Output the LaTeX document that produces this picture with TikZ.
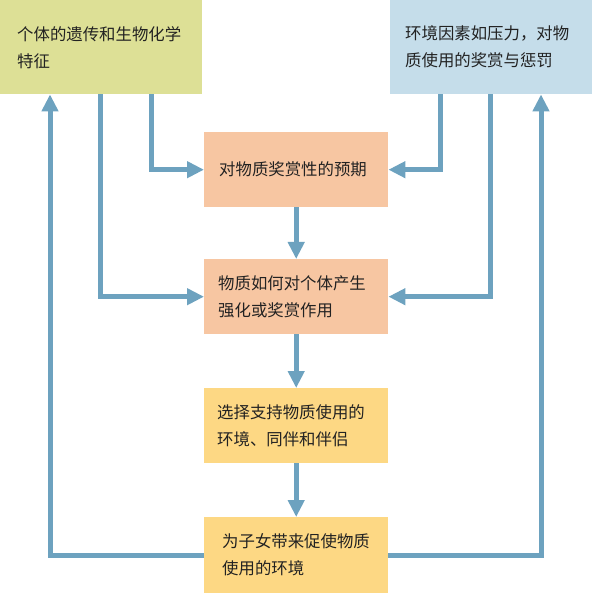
\documentclass[tikz,border=0pt]{standalone}
\usepackage{fontspec}
\setmainfont{Noto Sans CJK SC}
\usetikzlibrary{arrows.meta}
\definecolor{olivebox}{HTML}{DDE096}
\definecolor{bluebox}{HTML}{C5DDEA}
\definecolor{salmonbox}{HTML}{F7C6A2}
\definecolor{yellowbox}{HTML}{FDD884}
\definecolor{linkcol}{HTML}{6DA2BF}
\definecolor{txtcol}{HTML}{222222}
\tikzset{
  boxbase/.style={anchor=north west, inner ysep=0pt, align=left, text=txtcol,
    font=\fontsize{16.4}{27}\selectfont},
  mybox/.style n args={4}{boxbase, fill=#1, minimum width=#2, minimum height=#3,
    inner xsep=#4, text width=#2-2*#4},
  link/.style={draw=linkcol, line width=5pt},
  arr/.style={link, -{Triangle[length=17pt,width=16pt]}}
}
\begin{document}
\begin{tikzpicture}[x=1pt,y=-1pt]
\useasboundingbox (0,0) rectangle (592,593);
\fill[white] (0,0) rectangle (592,593);
\node[mybox={olivebox}{202pt}{94pt}{17pt}] (tl) at (0,0) {个体的遗传和生物化学\\特征};
\node[mybox={bluebox}{202pt}{94pt}{15pt}] (tr) at (390,0) {环境因素如压力，对物\\质使用的奖赏与惩罚};
\node[mybox={salmonbox}{184pt}{75pt}{15pt}] (b1) at (204,132) {对物质奖赏性的预期};
\node[mybox={salmonbox}{184pt}{75pt}{14pt}] (b2) at (204,259) {物质如何对个体产生\\强化或奖赏作用};
\node[mybox={yellowbox}{184pt}{75pt}{13pt}] (b3) at (204,388) {选择支持物质使用的\\环境、同伴和伴侣};
\node[mybox={yellowbox}{184pt}{76pt}{18pt}] (b4) at (204,517) {为子女带来促使物质\\使用的环境};
\coordinate (xa) at (50,0);
\coordinate (xb) at (100,0);
\coordinate (xc) at (151,0);
\coordinate (xd) at (440,0);
\coordinate (xe) at (490,0);
\coordinate (xf) at (541,0);
\draw[arr] (tl.south -| xc) |- (b1.west);
\draw[arr] (tl.south -| xb) |- (b2.west);
\draw[arr] (tr.south -| xd) |- (b1.east);
\draw[arr] (tr.south -| xe) |- (b2.east);
\draw[arr] (b1) -- (b2);
\draw[arr] (b2) -- (b3);
\draw[arr] (b3) -- (b4);
\draw[arr] (b4.west) -| (tl.south -| xa);
\draw[arr] (b4.east) -| (tr.south -| xf);
\end{tikzpicture}
\end{document}
